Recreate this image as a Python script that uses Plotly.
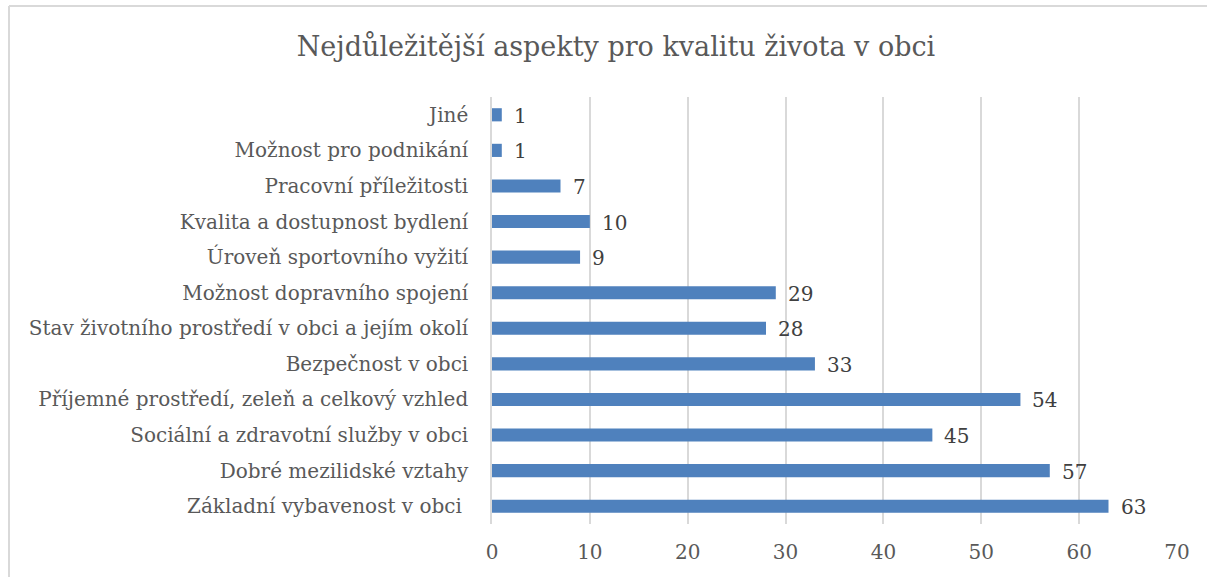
import plotly.graph_objects as go

categories = [
    "Základní vybavenost v obci ",
    "Dobré mezilidské vztahy",
    "Sociální a zdravotní služby v obci",
    "Příjemné prostředí, zeleň a celkový vzhled",
    "Bezpečnost v obci",
    "Stav životního prostředí v obci a jejím okolí",
    "Možnost dopravního spojení",
    "Úroveň sportovního vyžití",
    "Kvalita a dostupnost bydlení",
    "Pracovní příležitosti",
    "Možnost pro podnikání",
    "Jiné",
]
values = [63, 57, 45, 54, 33, 28, 29, 9, 10, 7, 1, 1]
x_ticks = [0, 10, 20, 30, 40, 50, 60, 70]

title_text = "Nejdůležitější aspekty pro kvalitu života v obci"

FONT = "DejaVu Serif"
BAR_COLOR = "#4F81BD"
GRID = "#D9D9D9"

fig = go.Figure()
fig.add_trace(go.Bar(
    x=values, y=categories, orientation="h",
    marker=dict(color=BAR_COLOR, line=dict(width=0)),
    hoverinfo="x+y",
))

for v, c in zip(values, categories):
    fig.add_annotation(x=v, y=c, text=str(v), showarrow=False,
                       xanchor="left", xshift=10, yshift=-1,
                       font=dict(family=FONT, size=20, color="#404040"))

L, R, T, B = 492, 30, 97, 53
W, H = 1207, 577
pw, ph = W - L - R, H - T - B

# chart border (top and left) like the source frame
fig.add_shape(type="line", xref="paper", yref="paper",
              x0=(9 - L) / pw, x1=(W - L) / pw,
              y0=1 + (T - 6) / ph, y1=1 + (T - 6) / ph,
              line=dict(color=GRID, width=2))
fig.add_shape(type="line", xref="paper", yref="paper",
              x0=(9 - L) / pw, x1=(9 - L) / pw,
              y0=1 + (T - 6) / ph, y1=-B / ph - 0.05,
              line=dict(color=GRID, width=2))

fig.update_layout(
    width=W, height=H,
    margin=dict(l=L, r=R, t=T, b=B),
    paper_bgcolor="white", plot_bgcolor="white",
    bargap=0.63,
    showlegend=False,
    title=dict(text=title_text, x=616 / W, xanchor="center",
               y=1 - 47 / H, yanchor="middle",
               font=dict(family=FONT, size=27, color="#595959")),
    xaxis=dict(range=[0, 70], tickvals=x_ticks, showgrid=True,
               gridcolor=GRID, gridwidth=1.5, zeroline=False,
               showline=False, ticks="",
               tickfont=dict(family=FONT, size=20, color="#595959"),
               ticklabelstandoff=14, fixedrange=True),
    yaxis=dict(showgrid=False, zeroline=False, showline=True,
               linecolor=GRID, linewidth=1.5, ticks="",
               tickfont=dict(family=FONT, size=20, color="#595959"),
               ticklabelstandoff=18, range=[-0.5, 11.5], fixedrange=True),
)

fig.write_html("out.html", config={"displayModeBar": False},
               post_script="document.body.style.margin='0';")
